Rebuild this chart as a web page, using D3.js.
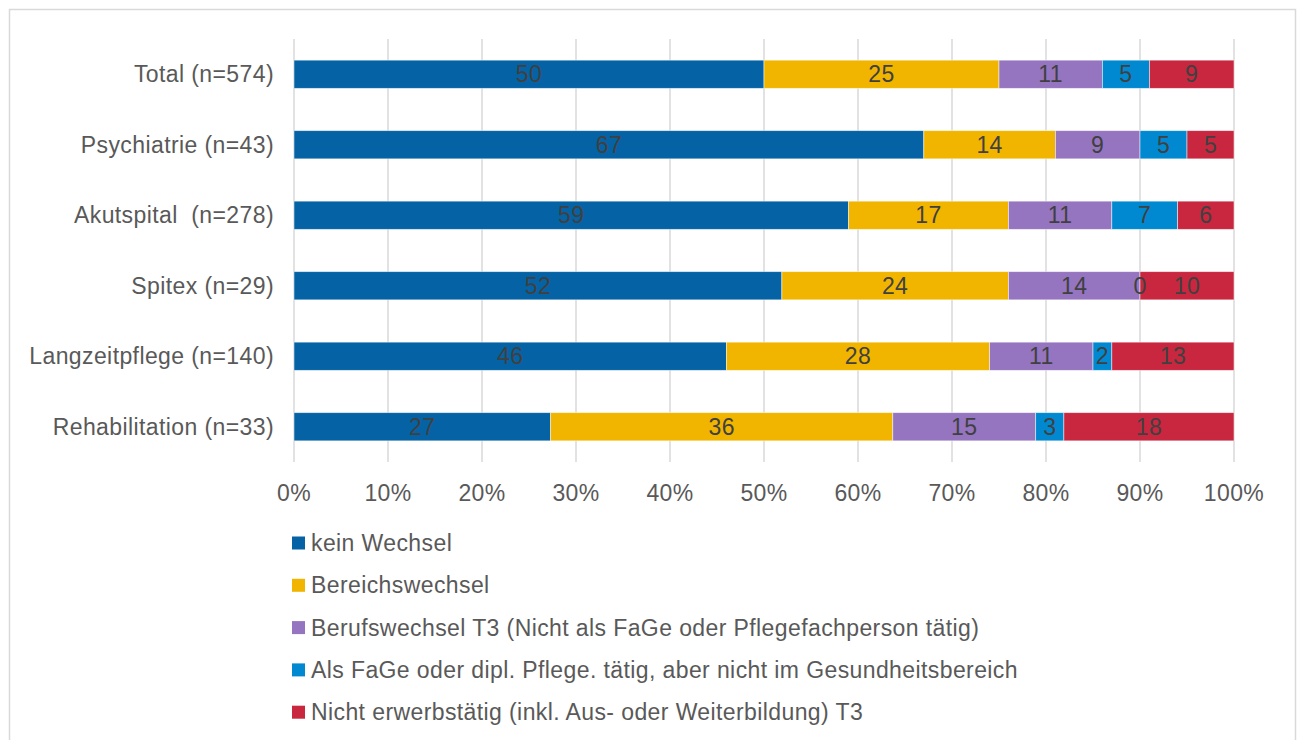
<!DOCTYPE html>
<html>
<head>
<meta charset="utf-8">
<script src="https://cdn.jsdelivr.net/npm/d3@7.9.0/dist/d3.min.js"></script>
<style>
  body { margin: 0; background: #fff; }
  svg { font-family: "Liberation Sans", Arial, sans-serif; }
  text { white-space: pre; letter-spacing: 0.4px; }
</style>
</head>
<body>
<svg id="chart" width="1300" height="740"></svg>
<script>
const categories = [
  'Total (n=574)',
  'Psychiatrie (n=43)',
  'Akutspital  (n=278)',
  'Spitex (n=29)',
  'Langzeitpflege (n=140)',
  'Rehabilitation (n=33)',
];

const seriesNames = [
  'kein Wechsel',
  'Bereichswechsel',
  'Berufswechsel T3 (Nicht als FaGe oder Pflegefachperson tätig)',
  'Als FaGe oder dipl. Pflege. tätig, aber nicht im Gesundheitsbereich',
  'Nicht erwerbstätig (inkl. Aus- oder Weiterbildung) T3',
];

const seriesColors = ['#0563a5', '#f1b500', '#9575c0', '#0089d1', '#c8273f'];

// percent per category, in series order
const keinWechsel = [50, 67, 59, 51.9, 46, 27.3];
const bereichswechsel = [25, 14, 17, 24.1, 28, 36.4];
const berufswechsel = [11, 9, 11, 14, 11, 15.2];
const alsFaGe = [5, 5, 7, 0, 2, 3.0];
const nichtErwerbstaetig = [9, 5, 6, 10, 13, 18.1];

const seriesValues = [keinWechsel, bereichswechsel, berufswechsel, alsFaGe, nichtErwerbstaetig];
const xTicks = [0, 10, 20, 30, 40, 50, 60, 70, 80, 90, 100];

const svg = d3.select('#chart');

// outer frame
svg.append('rect')
  .attr('x', 9.5).attr('y', 9.5)
  .attr('width', 1286).attr('height', 760)
  .attr('fill', 'none')
  .attr('stroke', '#d9d9d9')
  .attr('stroke-width', 1.5);

const x = d3.scaleLinear().domain([0, 100]).range([294, 1234]);
const y = d3.scaleBand().domain(categories).range([39, 462]).paddingInner(0.6).paddingOuter(0.3);

// gridlines
svg.append('g')
  .selectAll('line')
  .data(xTicks)
  .join('line')
  .attr('x1', (d) => x(d)).attr('x2', (d) => x(d))
  .attr('y1', 39).attr('y2', 462)
  .attr('stroke', '#d9d9d9')
  .attr('stroke-width', 1.5);

// x tick labels
svg.append('g')
  .selectAll('text')
  .data(xTicks)
  .join('text')
  .attr('x', (d) => x(d))
  .attr('y', 501)
  .attr('text-anchor', 'middle')
  .attr('font-size', 23)
  .attr('fill', '#595959')
  .text((d) => d + '%');

// category labels
svg.append('g')
  .selectAll('text')
  .data(categories)
  .join('text')
  .attr('x', 274)
  .attr('y', (d) => y(d) + y.bandwidth() / 2)
  .attr('dy', '0.35em')
  .attr('text-anchor', 'end')
  .attr('font-size', 23)
  .attr('fill', '#595959')
  .text((d) => d);

// stacked segments
const rows = categories.map((c, i) => {
  const row = { category: c };
  seriesNames.forEach((s, j) => { row[s] = seriesValues[j][i]; });
  return row;
});
const stacked = d3.stack().keys(seriesNames)(rows);

svg.append('g')
  .selectAll('g')
  .data(stacked)
  .join('g')
  .attr('fill', (d, i) => seriesColors[i])
  .selectAll('rect')
  .data((d) => d)
  .join('rect')
  .attr('x', (d) => x(d[0]))
  .attr('y', (d) => y(d.data.category))
  .attr('width', (d) => x(d[1]) - x(d[0]))
  .attr('height', y.bandwidth())
  .attr('stroke', 'rgba(255,255,255,0.6)')
  .attr('stroke-width', 0.8);

// data labels drawn above all segments
svg.append('g')
  .selectAll('g')
  .data(stacked)
  .join('g')
  .selectAll('text')
  .data((d) => d)
  .join('text')
  .attr('x', (d) => (x(d[0]) + x(d[1])) / 2)
  .attr('y', (d) => y(d.data.category) + y.bandwidth() / 2)
  .attr('dy', '0.35em')
  .attr('text-anchor', 'middle')
  .attr('font-size', 23)
  .attr('fill', '#404040')
  .text((d) => d3.format('.0f')(d[1] - d[0]));

// legend
const legend = svg.append('g')
  .selectAll('g')
  .data(seriesNames)
  .join('g')
  .attr('transform', (d, i) => `translate(292, ${543 + i * 42.3})`);

legend.append('rect')
  .attr('x', 0).attr('y', -6.5)
  .attr('width', 13).attr('height', 13)
  .attr('fill', (d, i) => seriesColors[i]);

legend.append('text')
  .attr('x', 19)
  .attr('dy', '0.35em')
  .attr('font-size', 23)
  .attr('fill', '#595959')
  .text((d) => d);
</script>
</body>
</html>
